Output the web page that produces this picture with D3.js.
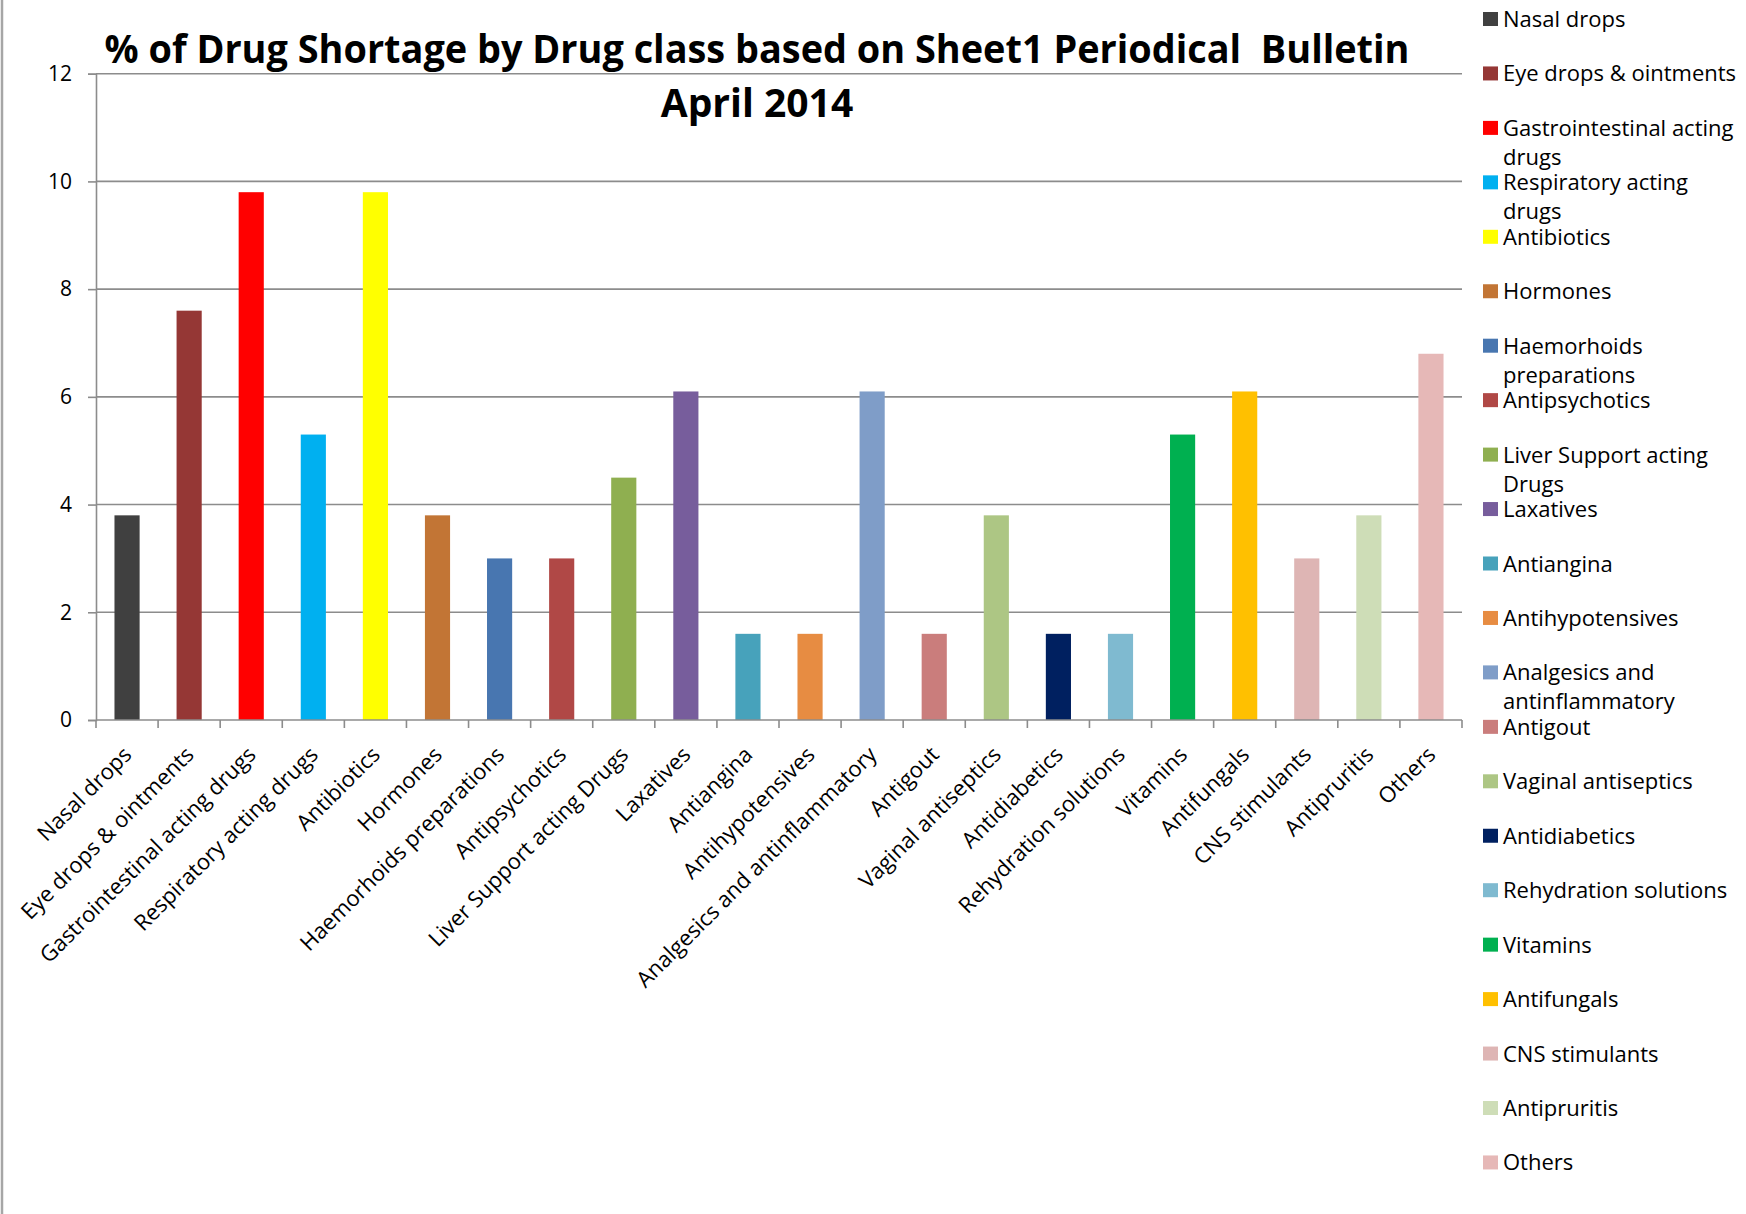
<!DOCTYPE html>
<html>
<head>
<meta charset="utf-8">
<script src="https://cdn.jsdelivr.net/npm/d3@7/dist/d3.min.js"></script>
<style>
  html, body { margin: 0; padding: 0; background: #fff; }
  svg { display: block; }
  text { font-family: "Open Sans", "Noto Sans", sans-serif; fill: #000; }
</style>
</head>
<body>
<script>
// ---- data ----
const categories = [
  "Nasal drops", "Eye drops & ointments", "Gastrointestinal acting drugs",
  "Respiratory acting drugs", "Antibiotics", "Hormones", "Haemorhoids preparations",
  "Antipsychotics", "Liver Support acting Drugs", "Laxatives", "Antiangina",
  "Antihypotensives", "Analgesics and antinflammatory", "Antigout",
  "Vaginal antiseptics", "Antidiabetics", "Rehydration solutions", "Vitamins",
  "Antifungals", "CNS stimulants", "Antipruritis", "Others"
];
const values = [3.8, 7.6, 9.8, 5.3, 9.8, 3.8, 3.0, 3.0, 4.5, 6.1, 1.6,
                1.6, 6.1, 1.6, 3.8, 1.6, 1.6, 5.3, 6.1, 3.0, 3.8, 6.8];
const colors = ["#404040", "#953735", "#FF0000", "#00B0F0", "#FFFF00", "#C27535",
                "#4876B0", "#B04846", "#8FAF50", "#775D9C", "#47A2BB", "#E78C42",
                "#7F9DC8", "#CA7D7C", "#ADC684", "#002060", "#7FBAD0", "#00B050",
                "#FFC000", "#DEB5B4", "#CEDDB7", "#E6B8B7"];
// legend labels with wrapping as in the reference
const legendLabels = [
  ["Nasal drops"], ["Eye drops & ointments"], ["Gastrointestinal acting", "drugs"],
  ["Respiratory acting", "drugs"], ["Antibiotics"], ["Hormones"],
  ["Haemorhoids", "preparations"], ["Antipsychotics"], ["Liver Support acting", "Drugs"],
  ["Laxatives"], ["Antiangina"], ["Antihypotensives"], ["Analgesics and", "antinflammatory"],
  ["Antigout"], ["Vaginal antiseptics"], ["Antidiabetics"], ["Rehydration solutions"],
  ["Vitamins"], ["Antifungals"], ["CNS stimulants"], ["Antipruritis"], ["Others"]
];
const yTicks = [0, 2, 4, 6, 8, 10, 12];
const titleLines = ["% of Drug Shortage by Drug class based on Sheet1 Periodical  Bulletin", "April 2014"];

// ---- layout ----
const W = 1746, H = 1214;
const plot = { left: 96, right: 1462, top: 73.7, bottom: 720 };
const gridColor = "#8c8c8c";

const svg = d3.select("body").append("svg").attr("width", W).attr("height", H);

// outer left border
svg.append("line").attr("x1", 2).attr("x2", 2).attr("y1", 0).attr("y2", H)
  .attr("stroke", "#a6a6a6").attr("stroke-width", 2.5);

const x = d3.scaleBand().domain(categories).range([plot.left, plot.right])
  .paddingInner(0.595).paddingOuter(0.2975);
const y = d3.scaleLinear().domain([0, 12]).range([plot.bottom, plot.top]);

// gridlines
svg.append("g").selectAll("line").data(yTicks.filter(d => d > 0)).join("line")
  .attr("x1", plot.left).attr("x2", plot.right)
  .attr("y1", d => y(d)).attr("y2", d => y(d))
  .attr("stroke", gridColor).attr("stroke-width", 1.6);

// y axis
const yAxis = svg.append("g").attr("transform", `translate(${plot.left},0)`)
  .call(d3.axisLeft(y).tickValues(yTicks).tickSize(8).tickPadding(16).tickFormat(d3.format("d")));
yAxis.select(".domain").attr("stroke", gridColor).attr("stroke-width", 1.6);
yAxis.selectAll(".tick line").attr("stroke", gridColor).attr("stroke-width", 1.6);
yAxis.selectAll(".tick text").attr("font-size", 21).attr("font-family", "Open Sans").attr("fill", "#000");

// bars
svg.append("g").selectAll("rect").data(values).join("rect")
  .attr("x", (d, i) => x(categories[i]))
  .attr("width", x.bandwidth())
  .attr("y", d => y(d))
  .attr("height", d => y(0) - y(d))
  .attr("fill", (d, i) => colors[i]);

// x axis line and boundary ticks
const step = x.step();
const bounds = categories.map(c => x(c) + x.bandwidth() / 2 - step / 2)
  .concat([x(categories[categories.length - 1]) + x.bandwidth() / 2 + step / 2]);
svg.append("line").attr("x1", plot.left).attr("x2", plot.right)
  .attr("y1", y(0)).attr("y2", y(0)).attr("stroke", gridColor).attr("stroke-width", 1.6);
svg.append("g").selectAll("line").data(bounds).join("line")
  .attr("x1", d => d).attr("x2", d => d)
  .attr("y1", y(0)).attr("y2", y(0) + 8)
  .attr("stroke", gridColor).attr("stroke-width", 1.6);

// x labels rotated
svg.append("g").selectAll("text").data(categories).join("text")
  .attr("transform", d => `translate(${x(d) + x.bandwidth() / 2 + 6},${y(0) + 36}) rotate(-45)`)
  .attr("text-anchor", "end")
  .attr("font-size", 22)
  .text(d => d);

// title
const title = svg.append("g");
title.append("text").attr("x", 757).attr("y", 63)
  .attr("text-anchor", "middle").attr("font-size", 40).attr("font-weight", "bold")
  .attr("textLength", 1305).attr("lengthAdjust", "spacingAndGlyphs")
  .style("white-space", "pre")
  .text(titleLines[0]);
title.append("text").attr("x", 757).attr("y", 117)
  .attr("text-anchor", "middle").attr("font-size", 39).attr("font-weight", "bold")
  .text(titleLines[1]);

// legend
const legend = svg.append("g");
const lg = legend.selectAll("g").data(categories).join("g")
  .attr("transform", (d, i) => `translate(1483,${19 + i * 54.45})`);
lg.append("rect").attr("x", 0).attr("y", -7).attr("width", 15).attr("height", 14)
  .attr("fill", (d, i) => colors[i]);
lg.append("text").attr("x", 20).attr("y", 8).attr("font-size", 22)
  .selectAll("tspan").data((d, i) => legendLabels[i]).join("tspan")
  .attr("x", 20).attr("dy", (d, j) => j === 0 ? 0 : 29)
  .text(d => d);
</script>
</body>
</html>
